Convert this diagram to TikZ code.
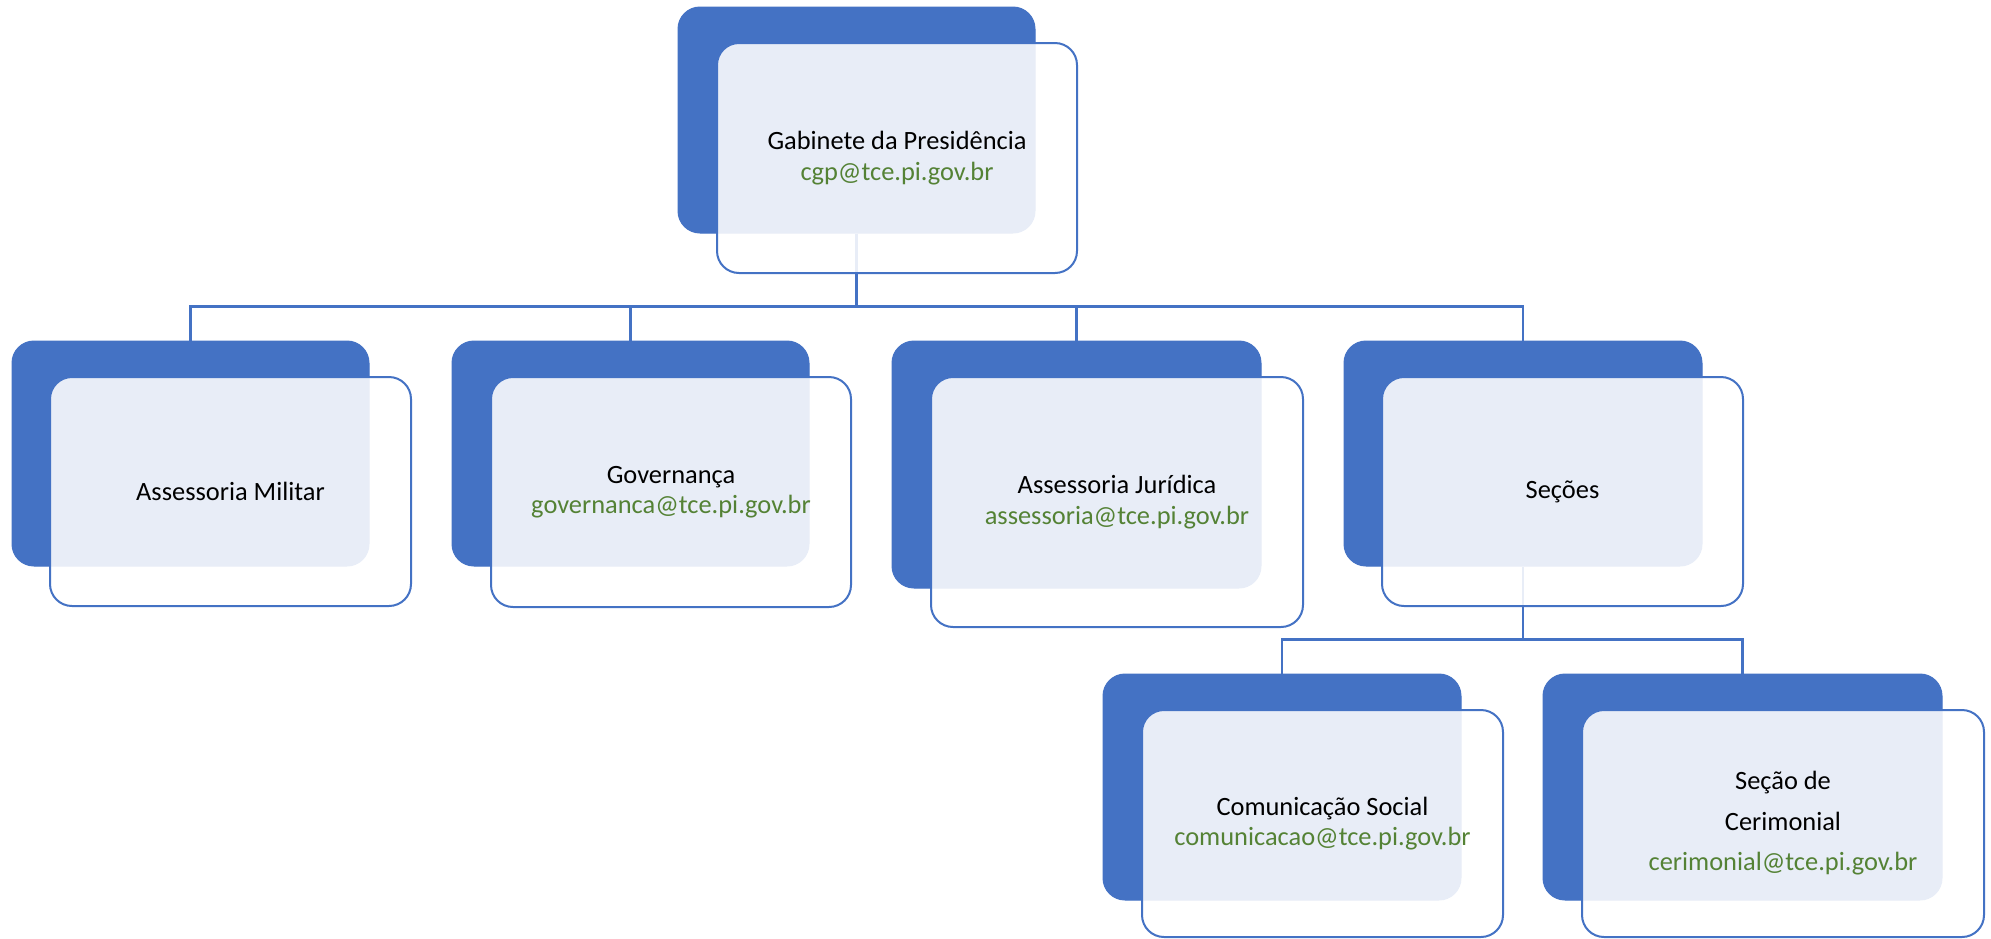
\documentclass[tikz,border=0pt]{standalone}
\usepackage{fontspec}
\setmainfont{Carlito}
\definecolor{boxblue}{HTML}{4472C4}
\definecolor{mailgreen}{HTML}{548235}
\begin{document}
\begin{tikzpicture}[x=1pt,y=1pt,
  backbox/.style={rectangle, rounded corners=22pt, fill=boxblue, draw=boxblue, line width=1pt, inner sep=0pt},
  frontbox/.style={rectangle, rounded corners=22pt, fill=white, fill opacity=0.88, text opacity=1, draw=boxblue, draw opacity=1, line width=2pt, inner sep=0pt, align=center, font=\fontsize{26.4}{30.5}\selectfont},
  link/.style={draw=boxblue, line width=2.4pt},
  mail/.style={}]
\useasboundingbox (0,0) rectangle (1991,-938);
% back boxes
\node[backbox, minimum width=357, minimum height=226] (tb) at (856.5,-120) {};
\node[backbox, minimum width=357, minimum height=225] (mb) at (190.5,-453.5) {};
\node[backbox, minimum width=357, minimum height=225] (gb) at (630.5,-453.5) {};
\node[backbox, minimum width=369, minimum height=247] (jb) at (1076.5,-464.5) {};
\node[backbox, minimum width=358, minimum height=225] (sb) at (1523,-453.5) {};
\node[backbox, minimum width=358, minimum height=226] (cb) at (1282,-787) {};
\node[backbox, minimum width=399, minimum height=226] (eb) at (1742.5,-787) {};
% connectors
\draw[link] (tb.south) -- ++(0,-73) -| (mb.north);
\draw[link] (tb.south) -- ++(0,-73) -| (gb.north);
\draw[link] (tb.south) -- ++(0,-73) -| (jb.north);
\draw[link] (tb.south) -- ++(0,-73) -| (sb.north);
\draw[link] (sb.south) -- ++(0,-73) -| (cb.north);
\draw[link] (sb.south) -- ++(0,-73) -| (eb.north);
% front boxes
\node[frontbox, minimum width=360, minimum height=230] (t) at (897,-158)
  {Gabinete da Presidência\\\textcolor{mailgreen}{cgp@tce.pi.gov.br}};
\node[frontbox, minimum width=361, minimum height=229] (m) at (230.5,-491.5)
  {Assessoria Militar};
\node[frontbox, minimum width=360, minimum height=230] (g) at (671,-492)
  {Governança\\\textcolor{mailgreen}{governanca@tce.pi.gov.br}};
\node[frontbox, minimum width=372, minimum height=250] (j) at (1117,-502)
  {Assessoria Jurídica\\\textcolor{mailgreen}{assessoria@tce.pi.gov.br}};
\node[frontbox, minimum width=361, minimum height=229] (s) at (1562.5,-491.5)
  {Seções};
\node[frontbox, minimum width=361, minimum height=227] (c) at (1322.5,-823.5)
  {Comunicação Social\\\textcolor{mailgreen}{comunicacao@tce.pi.gov.br}};
\node[frontbox, minimum width=402, minimum height=227, font=\fontsize{26.4}{40.5}\selectfont] (e) at (1783,-823.5)
  {Seção de\\Cerimonial\\\textcolor{mailgreen}{cerimonial@tce.pi.gov.br}};
\end{tikzpicture}
\end{document}
